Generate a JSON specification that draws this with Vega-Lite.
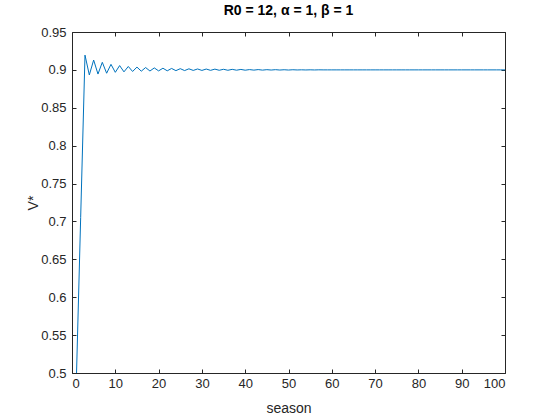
{
  "$schema": "https://vega.github.io/schema/vega-lite/v6.json",
  "width": 433,
  "height": 341,
  "autosize": "none",
  "padding": {"left": 72, "top": 32, "right": 55, "bottom": 47},
  "background": "white",
  "title": {"text": "R0 = 12, α = 1, β = 1", "font": "Liberation Sans", "fontSize": 14, "fontWeight": "bold", "color": "#000000", "anchor": "middle", "offset": 8},
  "config": {
    "view": {"stroke": null},
    "axis": {
      "grid": false,
      "domainColor": "#262626",
      "domainWidth": 1,
      "tickColor": "#262626",
      "tickSize": -4,
      "labelFont": "Liberation Sans",
      "labelFontSize": 13,
      "labelColor": "#262626",
      "titleFont": "Liberation Sans",
      "titleFontSize": 14,
      "titleFontWeight": "normal",
      "titleColor": "#262626"
    }
  },
  "data": {"values": [
    {"season": 1, "V": 0.49}, {"season": 2, "V": 0.705}, {"season": 3, "V": 0.9195}, {"season": 4, "V": 0.8933},
    {"season": 5, "V": 0.913}, {"season": 6, "V": 0.8945}, {"season": 7, "V": 0.91}, {"season": 8, "V": 0.8956},
    {"season": 9, "V": 0.9073}, {"season": 10, "V": 0.8968}, {"season": 11, "V": 0.9057}, {"season": 12, "V": 0.8974},
    {"season": 13, "V": 0.9045}, {"season": 14, "V": 0.8979}, {"season": 15, "V": 0.9037}, {"season": 16, "V": 0.8983},
    {"season": 17, "V": 0.9031}, {"season": 18, "V": 0.8985}, {"season": 19, "V": 0.9026}, {"season": 20, "V": 0.8987},
    {"season": 21, "V": 0.9022}, {"season": 22, "V": 0.8988}, {"season": 23, "V": 0.9019}, {"season": 24, "V": 0.899},
    {"season": 25, "V": 0.9016}, {"season": 26, "V": 0.8991}, {"season": 27, "V": 0.9014}, {"season": 28, "V": 0.8993},
    {"season": 29, "V": 0.9012}, {"season": 30, "V": 0.8993}, {"season": 31, "V": 0.9011}, {"season": 32, "V": 0.8994},
    {"season": 33, "V": 0.901}, {"season": 34, "V": 0.8995}, {"season": 35, "V": 0.9008}, {"season": 36, "V": 0.8995},
    {"season": 37, "V": 0.9007}, {"season": 38, "V": 0.8996}, {"season": 39, "V": 0.9006}, {"season": 40, "V": 0.8996},
    {"season": 41, "V": 0.9004}, {"season": 42, "V": 0.8997}, {"season": 43, "V": 0.9004}, {"season": 44, "V": 0.8997},
    {"season": 45, "V": 0.9003}, {"season": 46, "V": 0.8998}, {"season": 47, "V": 0.9003}, {"season": 48, "V": 0.8998},
    {"season": 49, "V": 0.9002}, {"season": 50, "V": 0.8998}, {"season": 51, "V": 0.9002}, {"season": 52, "V": 0.8999},
    {"season": 53, "V": 0.9001}, {"season": 54, "V": 0.8999}, {"season": 55, "V": 0.9001}, {"season": 56, "V": 0.8999},
    {"season": 57, "V": 0.9001}, {"season": 58, "V": 0.9}, {"season": 59, "V": 0.9}, {"season": 60, "V": 0.9},
    {"season": 61, "V": 0.9}, {"season": 62, "V": 0.9}, {"season": 63, "V": 0.9}, {"season": 64, "V": 0.9},
    {"season": 65, "V": 0.9}, {"season": 66, "V": 0.9}, {"season": 67, "V": 0.9}, {"season": 68, "V": 0.9},
    {"season": 69, "V": 0.9}, {"season": 70, "V": 0.9}, {"season": 71, "V": 0.9}, {"season": 72, "V": 0.9},
    {"season": 73, "V": 0.9}, {"season": 74, "V": 0.9}, {"season": 75, "V": 0.9}, {"season": 76, "V": 0.9},
    {"season": 77, "V": 0.9}, {"season": 78, "V": 0.9}, {"season": 79, "V": 0.9}, {"season": 80, "V": 0.9},
    {"season": 81, "V": 0.9}, {"season": 82, "V": 0.9}, {"season": 83, "V": 0.9}, {"season": 84, "V": 0.9},
    {"season": 85, "V": 0.9}, {"season": 86, "V": 0.9}, {"season": 87, "V": 0.9}, {"season": 88, "V": 0.9},
    {"season": 89, "V": 0.9}, {"season": 90, "V": 0.9}, {"season": 91, "V": 0.9}, {"season": 92, "V": 0.9},
    {"season": 93, "V": 0.9}, {"season": 94, "V": 0.9}, {"season": 95, "V": 0.9}, {"season": 96, "V": 0.9},
    {"season": 97, "V": 0.9}, {"season": 98, "V": 0.9}, {"season": 99, "V": 0.9}, {"season": 100, "V": 0.9}
  ]},
  "layer": [
    {
      "mark": {"type": "line", "color": "#0072BD", "strokeWidth": 1, "clip": true},
      "encoding": {
        "x": {"field": "season", "type": "quantitative",
              "scale": {"domain": [0, 100], "nice": false, "zero": false},
              "axis": {"title": "season", "values": [0, 10, 20, 30, 40, 50, 60, 70, 80, 90, 100], "labelPadding": 8, "titlePadding": 11}},
        "y": {"field": "V", "type": "quantitative",
              "scale": {"domain": [0.5, 0.95], "nice": false, "zero": false},
              "axis": {"title": "V*", "format": "~g", "values": [0.5, 0.55, 0.6, 0.65, 0.7, 0.75, 0.8, 0.85, 0.9, 0.95], "labelPadding": 10, "titlePadding": 0}}
      }
    },
    {
      "mark": {"type": "line", "opacity": 0},
      "encoding": {
        "x": {"field": "season", "type": "quantitative",
              "axis": {"orient": "top", "title": null, "labels": false, "values": [0, 10, 20, 30, 40, 50, 60, 70, 80, 90, 100]}},
        "y": {"field": "V", "type": "quantitative",
              "axis": {"orient": "right", "title": null, "labels": false, "values": [0.5, 0.55, 0.6, 0.65, 0.7, 0.75, 0.8, 0.85, 0.9, 0.95]}}
      }
    }
  ],
  "resolve": {"axis": {"x": "independent", "y": "independent"}}
}
